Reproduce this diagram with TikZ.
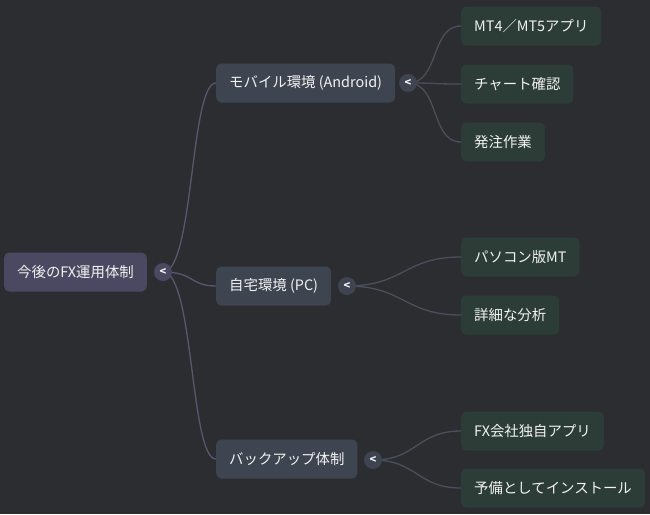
\documentclass[tikz,border=0pt]{standalone}
\usepackage{fontspec}
\setmainfont{Noto Sans CJK JP}
\definecolor{bg}{HTML}{2C2D31}
\definecolor{rootfill}{HTML}{4B4962}
\definecolor{midfill}{HTML}{3F4451}
\definecolor{leaffill}{HTML}{2C3D37}
\definecolor{rootline}{HTML}{5A5670}
\definecolor{midline}{HTML}{4A4F5C}
\definecolor{txt}{HTML}{F2F2F2}
\tikzset{
  box/.style={rounded corners=5pt, minimum height=39pt, inner xsep=13pt, inner ysep=0pt, text=txt, font=\fontsize{14.4}{17}\selectfont, anchor=west},
  rootbox/.style={box, fill=rootfill},
  midbox/.style={box, fill=midfill},
  leafbox/.style={box, fill=leaffill},
  toggle/.style={circle, minimum size=18pt, inner sep=0pt, text=txt, font=\fontsize{11}{11}\selectfont\bfseries},
  rootlink/.style={draw=rootline, line width=1.3pt},
  midlink/.style={draw=midline, line width=1.3pt}
}
\begin{document}
\begin{tikzpicture}[x=1pt,y=-1pt]
\fill[bg] (0,0) rectangle (650,514);
\useasboundingbox (0,0) rectangle (650,514);
% nodes
\node[rootbox] (root) at (4,272) {今後のFX運用体制};
\node[midbox] (mob) at (216,83) {モバイル環境 (Android)};
\node[midbox] (pc) at (216,286) {自宅環境 (PC)};
\node[midbox] (bk) at (216,459) {バックアップ体制};
\node[leafbox] (l1) at (461,26) {MT4／MT5アプリ};
\node[leafbox] (l2) at (461,84) {チャート確認};
\node[leafbox] (l3) at (461,142) {発注作業};
\node[leafbox] (l4) at (461,257) {パソコン版MT};
\node[leafbox] (l5) at (461,315) {詳細な分析};
\node[leafbox] (l6) at (461,431) {FX会社独自アプリ};
\node[leafbox] (l7) at (461,488) {予備としてインストール};
% connectors (drawn behind toggles)
\coordinate (rs) at (163,272);
\coordinate (ms) at (408,83);
\coordinate (ps) at (347,286);
\coordinate (bs) at (373,460);
\path[rootlink] (rs) .. controls (194,272) and (190,83) .. (mob.west);
\path[rootlink] (rs) .. controls (194,272) and (190,286) .. (pc.west);
\path[rootlink] (rs) .. controls (194,272) and (190,459) .. (bk.west);
\path[midlink] (ms) .. controls (440,83) and (430,26) .. (l1.west);
\path[midlink] (ms) .. controls (440,83) and (430,84) .. (l2.west);
\path[midlink] (ms) .. controls (440,83) and (430,142) .. (l3.west);
\path[midlink] (ps) .. controls (404,286) and (404,257) .. (l4.west);
\path[midlink] (ps) .. controls (404,286) and (404,315) .. (l5.west);
\path[midlink] (bs) .. controls (417,460) and (417,431) .. (l6.west);
\path[midlink] (bs) .. controls (417,460) and (417,488) .. (l7.west);
% toggles
\node[toggle, fill=rootfill] (t0) at (rs) {<};
\node[toggle, fill=midfill] (t1) at (ms) {<};
\node[toggle, fill=midfill] (t2) at (ps) {<};
\node[toggle, fill=midfill] (t3) at (bs) {<};
\end{tikzpicture}
\end{document}
